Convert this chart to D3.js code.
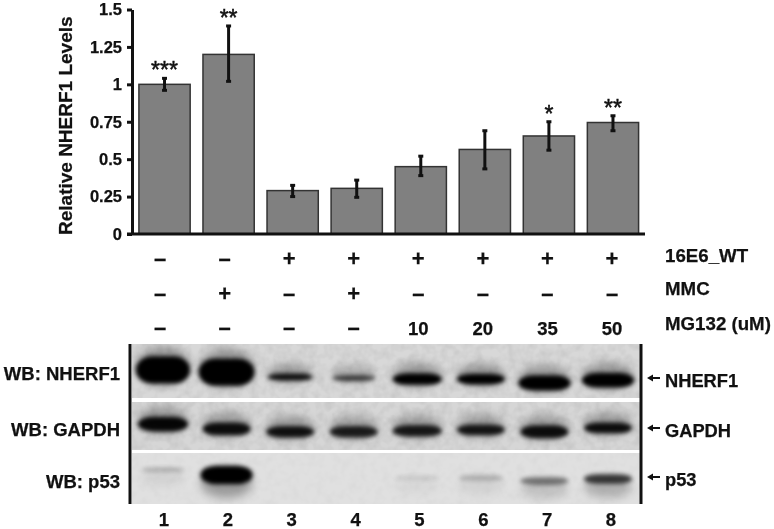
<!DOCTYPE html>
<html lang="en">
<head>
<meta charset="utf-8">
<title>NHERF1 levels</title>
<script src="https://cdnjs.cloudflare.com/ajax/libs/d3/7.8.5/d3.min.js"></script>
<style>
html, body { margin: 0; padding: 0; background: #fff; }
svg { display: block; filter: blur(0.35px); }
text { font-family: "Liberation Sans", Arial, sans-serif; font-weight: bold; fill: #111; stroke: #111; stroke-width: 0.25; }
.axis path, .axis line { stroke: #111; stroke-width: 3; }
.axis text { font-size: 16.5px; font-family: "Liberation Sans", Arial, sans-serif; }
.bar { fill: #808080; stroke: #333; stroke-width: 1.5; }
.err { stroke: #111; stroke-width: 3; fill: none; }
</style>
</head>
<body>
<script>
// chart values
var lanes = ["1", "2", "3", "4", "5", "6", "7", "8"]
var levels = [1, 1.2, 0.29, 0.305, 0.45, 0.565, 0.655, 0.745]
var errLow = [0.96, 1.02, 0.25, 0.245, 0.39, 0.435, 0.56, 0.69]
var errHigh = [1.04, 1.39, 0.325, 0.36, 0.52, 0.69, 0.75, 0.79]
var stars = ["***", "**", "", "", "", "", "*", "**"]
var yTicks = [0, 0.25, 0.5, 0.75, 1, 1.25, 1.5]
var yTickLabels = ["0", "0.25", "0.5", "0.75", "1", "1.25", "1.5"]

var e6Row = ["–", "–", "+", "+", "+", "+", "+", "+"]
var mmcRow = ["–", "+", "–", "+", "–", "–", "–", "–"]
var mgRow = ["–", "–", "–", "–", "10", "20", "35", "50"]
var rowNames = ["16E6_WT", "MMC", "MG132 (uM)"]

// blot readings, all 0-1: darkness, band thickness, band width, and how far down the panel it ran
var nherf1Density = [1, 1, 0.92, 0.68, 1, 1, 1, 1]
var nherf1Thick = [0.85, 0.85, 0.22, 0.18, 0.36, 0.33, 0.48, 0.46]
var nherf1Width = [0.9, 0.93, 0.75, 0.72, 0.82, 0.8, 0.87, 0.87]
var nherf1Run = [0.48, 0.52, 0.61, 0.63, 0.65, 0.65, 0.72, 0.67]

var gapdhDensity = [0.96, 0.92, 0.9, 0.84, 0.86, 0.88, 0.92, 0.92]
var gapdhThick = [0.46, 0.4, 0.36, 0.36, 0.36, 0.34, 0.4, 0.34]
var gapdhWidth = [0.84, 0.8, 0.8, 0.8, 0.82, 0.8, 0.8, 0.8]
var gapdhRun = [0.46, 0.56, 0.62, 0.62, 0.6, 0.58, 0.62, 0.54]

var p53Density = [0.2, 1, 0, 0, 0.09, 0.2, 0.45, 0.72]
var p53Thick = [0.14, 0.58, 0, 0, 0.16, 0.18, 0.24, 0.3]
var p53Width = [0.72, 0.87, 0, 0, 0.75, 0.75, 0.8, 0.8]
var p53Run = [0.33, 0.43, 0, 0, 0.49, 0.49, 0.55, 0.51]

var panelNames = ["NHERF1", "GAPDH", "p53"]
var panelTop = [344, 402, 453]
var panelBottom = [398, 450, 504]
var panelShade = ["#d8d8d8", "#d6d6d6", "#e0e0e0"]

var width = 774, height = 529

var svg = d3.select("body").append("svg")
  .attr("width", width)
  .attr("height", height)

var defs = svg.append("defs")
defs.append("filter").attr("id", "soft").attr("x", "-30%").attr("y", "-80%").attr("width", "160%").attr("height", "260%")
  .append("feGaussianBlur").attr("stdDeviation", 2.2)
defs.append("filter").attr("id", "haze").attr("x", "-40%").attr("y", "-150%").attr("width", "180%").attr("height", "400%")
  .append("feGaussianBlur").attr("stdDeviation", "4 5")
// film grain on the blots
var grain = defs.append("filter").attr("id", "grain").attr("x", 0).attr("y", 0).attr("width", "100%").attr("height", "100%")
grain.append("feTurbulence").attr("type", "fractalNoise").attr("baseFrequency", 0.12).attr("numOctaves", 2).attr("seed", 4)
grain.append("feColorMatrix").attr("type", "matrix")
  .attr("values", "0 0 0 0 0  0 0 0 0 0  0 0 0 0 0  1.2 0 0 0 -0.42")

// bar chart
var x = d3.scaleBand().domain(lanes).range([132.5, 645]).paddingInner(0.2).paddingOuter(0.1)
var y = d3.scaleLinear().domain([0, 1.5]).range([234, 9.5])

lanes.forEach(function(d, i) {
  var cx = x(d) + x.bandwidth() / 2
  svg.append("rect").attr("class", "bar")
    .attr("x", x(d))
    .attr("y", y(levels[i]))
    .attr("width", x.bandwidth())
    .attr("height", y(0) - y(levels[i]))
  svg.append("line").attr("class", "err")
    .attr("x1", cx).attr("x2", cx)
    .attr("y1", y(errLow[i])).attr("y2", y(errHigh[i]))
  ;[errLow[i], errHigh[i]].forEach(function(v) {
    svg.append("line").attr("class", "err")
      .attr("x1", cx - 2.5).attr("x2", cx + 2.5)
      .attr("y1", y(v)).attr("y2", y(v))
  })
  if (stars[i]) {
    svg.append("text")
      .attr("x", cx)
      .attr("y", y(errHigh[i]))
      .attr("text-anchor", "middle")
      .style("font-size", "23px")
      .style("font-weight", "normal")
      .style("stroke-width", "0.5")
      .text(stars[i])
  }
})

svg.append("g").attr("class", "axis")
  .attr("transform", "translate(132,0)")
  .call(d3.axisLeft(y).tickValues(yTicks).tickSize(5).tickSizeOuter(0)
    .tickFormat(function(d, i) { return yTickLabels[i] }))
  .call(function(g) { g.selectAll("text").attr("x", -10).attr("fill", "#111") })

svg.append("line")
  .attr("x1", 127).attr("x2", 645)
  .attr("y1", y(0)).attr("y2", y(0))
  .attr("stroke", "#111").attr("stroke-width", 3)

svg.append("text")
  .attr("transform", "translate(72,235) rotate(-90)")
  .style("font-size", "19px")
  .text("Relative NHERF1 Levels")

// treatment rows
var rowX = d3.scalePoint().domain(lanes).range([160, 612])
var rowY = d3.scalePoint().domain(rowNames).range([259, 328])

;[e6Row, mmcRow, mgRow].forEach(function(row, r) {
  svg.append("g").selectAll("text")
    .data(row)
    .enter()
    .append("text")
    .attr("x", function(d, i) { return rowX(lanes[i]) })
    .attr("y", rowY(rowNames[r]))
    .attr("dy", function(d) { return d.length > 1 ? "0.36em" : "0.33em" })
    .attr("text-anchor", "middle")
    .style("font-size", function(d) { return d.length > 1 ? "18.5px" : "22px" })
    .text(function(d) { return d })
})

var rowNameY = [262, 295, 330]
rowNames.forEach(function(d, i) {
  svg.append("text")
    .attr("x", 665)
    .attr("y", rowNameY[i])
    .style("font-size", "18.7px")
    .text(d)
})

// western blot panels
var laneX = d3.scalePoint().domain(lanes).range([163, 608])
var bandW = d3.scaleLinear().domain([0, 1]).range([0, 30])
var bandH = d3.scaleLinear().domain([0, 1]).range([0, 16])

var blots = [
  { density: nherf1Density, thick: nherf1Thick, wide: nherf1Width, run: nherf1Run },
  { density: gapdhDensity, thick: gapdhThick, wide: gapdhWidth, run: gapdhRun },
  { density: p53Density, thick: p53Thick, wide: p53Width, run: p53Run }
]

blots.forEach(function(b, p) {
  var clipId = "panel" + p
  var runY = d3.scaleLinear().domain([0, 1]).range([panelTop[p], panelBottom[p]])
  defs.append("clipPath").attr("id", clipId).append("rect")
    .attr("x", 132).attr("y", panelTop[p])
    .attr("width", 508).attr("height", panelBottom[p] - panelTop[p])
  var g = svg.append("g").attr("clip-path", "url(#" + clipId + ")")
  g.append("rect")
    .attr("x", 132).attr("y", panelTop[p])
    .attr("width", 508).attr("height", panelBottom[p] - panelTop[p])
    .attr("fill", panelShade[p])
  g.append("rect")
    .attr("x", 132).attr("y", panelTop[p])
    .attr("width", 508).attr("height", panelBottom[p] - panelTop[p])
    .attr("opacity", p == 2 ? 0.03 : 0.1)
    .attr("filter", "url(#grain)")
  lanes.forEach(function(d, i) {
    if (!b.density[i]) return
    var cx = laneX(d), cy = runY(b.run[i])
    var w = bandW(b.wide[i]), h = bandH(b.thick[i])
    // smear around the band; p53 trails downward, the others upward
    g.append("ellipse")
      .attr("cx", cx)
      .attr("cy", cy + (p == 2 ? 8 : -4))
      .attr("rx", w)
      .attr("ry", h + 6)
      .attr("fill", "#000")
      .attr("opacity", 0.3 * b.density[i])
      .attr("filter", "url(#haze)")
    // bands are flat in the middle, so a rounded rect rather than an ellipse
    g.append("rect")
      .attr("x", cx - w)
      .attr("y", cy - h)
      .attr("width", 2 * w)
      .attr("height", 2 * h)
      .attr("rx", w * 0.6)
      .attr("ry", h)
      .attr("fill", "#000")
      .attr("opacity", b.density[i])
      .attr("filter", "url(#soft)")
  })
})

// lane rules and lane numbers
;[130, 641].forEach(function(v) {
  svg.append("line")
    .attr("x1", v).attr("x2", v)
    .attr("y1", panelTop[0]).attr("y2", panelBottom[2])
    .attr("stroke", "#111").attr("stroke-width", 3)
})

var numX = d3.scalePoint().domain(lanes).range([164, 611])
svg.append("g").selectAll("text")
  .data(lanes)
  .enter()
  .append("text")
  .attr("x", function(d) { return numX(d) })
  .attr("y", 526)
  .attr("text-anchor", "middle")
  .style("font-size", "18.5px")
  .text(function(d) { return d })

// labels either side of the blots
var leftLabelY = [380, 435.5, 488]
var rightLabelY = [387, 436.5, 485.5]
var arrowY = [378, 428, 477]

panelNames.forEach(function(d, i) {
  svg.append("text")
    .attr("x", 120)
    .attr("y", leftLabelY[i])
    .attr("text-anchor", "end")
    .style("font-size", "18.5px")
    .text("WB: " + d)
  svg.append("text")
    .attr("x", 665)
    .attr("y", rightLabelY[i])
    .style("font-size", "18.3px")
    .text(d)
  svg.append("path")
    .attr("d", d3.line()([[660, arrowY[i]], [651, arrowY[i]]]))
    .attr("stroke", "#111")
    .attr("stroke-width", 2)
  svg.append("path")
    .attr("d", d3.line()([[647, arrowY[i]], [653, arrowY[i] - 3.5], [653, arrowY[i] + 3.5]]) + "Z")
    .attr("fill", "#111")
})
</script>
</body>
</html>
